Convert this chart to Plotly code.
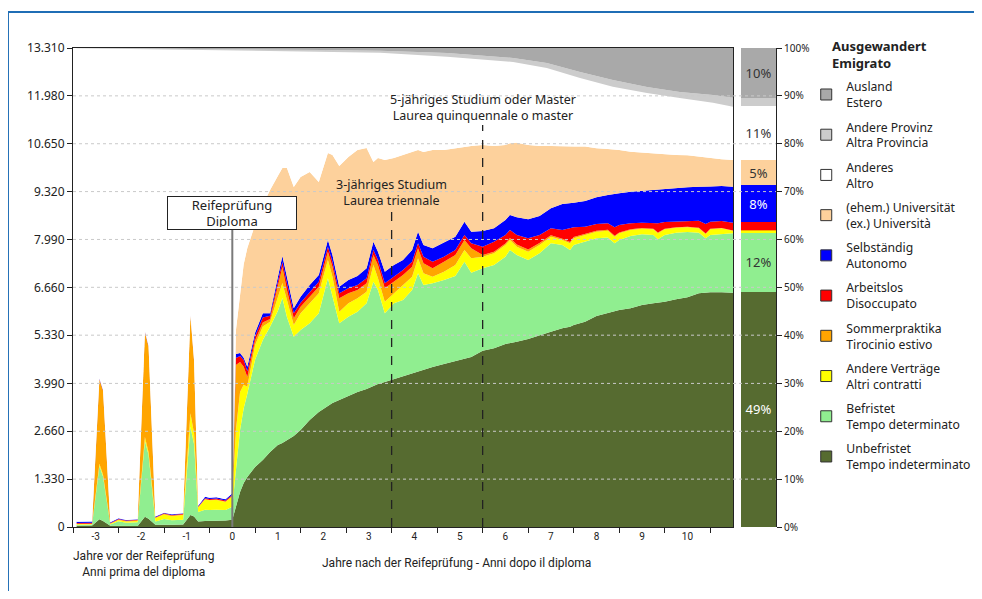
import plotly.graph_objects as go

# ---------------- data ----------------
# time in years relative to the Reifeprüfung (diploma)
years = [-3.42, -3.08, -2.92, -2.84, -2.68, -2.5, -2.33, -2.08, -1.92, -1.84, -1.69, -1.5, -1.33, -1.08,
         -0.92, -0.84, -0.75, -0.6, -0.5, -0.35, -0.15, 0.0,
         0.08, 0.17, 0.25, 0.33, 0.5, 0.67, 0.83, 1.0, 1.1, 1.2, 1.35, 1.5, 1.7, 1.9, 2.1, 2.2, 2.35, 2.55,
         2.75, 2.95, 3.1, 3.2, 3.35, 3.55, 3.75, 3.95, 4.08, 4.2, 4.4, 4.65, 4.9, 5.1, 5.25, 5.5, 5.75, 6.0,
         6.1, 6.25, 6.5, 6.75, 7.0, 7.25, 7.42, 7.5, 7.75, 8.0, 8.25, 8.4, 8.5, 8.75, 9.0, 9.25, 9.35, 9.5,
         9.75, 10.0, 10.25, 10.4, 10.5, 10.75, 11.0]
n_before = 22  # points up to and including the diploma

# cumulative upper boundary of each stacked status (persons)
unbefristet_top = [36, 40, 214, 170, 35, 30, 30, 30, 286, 230, 60, 70, 60, 70, 333, 290, 150, 170, 170, 175, 180, 200,
                   600, 973, 1220, 1390, 1670, 1862, 2084, 2279, 2334, 2418, 2529, 2696, 2974, 3196, 3363, 3446, 3529,
                   3640, 3752, 3835, 3918, 3974, 4030, 4113, 4196, 4280, 4335, 4363, 4446, 4530, 4613, 4669, 4724,
                   4900, 4966, 5086, 5105, 5150, 5225, 5336, 5428, 5522, 5567, 5614, 5706, 5864, 5955, 6011, 6030,
                   6077, 6169, 6216, 6234, 6261, 6328, 6383, 6494, 6511, 6521, 6521, 6510]
befristet_top = [64, 70, 1695, 1400, 70, 160, 120, 130, 2400, 2000, 150, 220, 190, 200, 2787, 2300, 420, 480, 470, 480, 470, 560,
                 1584, 2696, 3300, 3700, 4650, 5197, 5566, 6000, 6364, 5836, 5289, 5475, 5661, 5940, 6911, 6400, 5661,
                 5844, 5983, 6216, 6817, 6586, 5939, 6216, 6308, 6586, 7050, 6725, 6772, 6864, 6975, 7373, 7067, 7189,
                 7281, 7512, 7698, 7559, 7420, 7605, 7884, 7837, 7698, 7837, 7929, 8023, 8041, 7884, 7976, 8087, 8134,
                 8115, 7995, 8115, 8179, 8198, 8179, 8023, 8115, 8134, 8160]
andere_vertraege_top = [83, 85, 1760, 1450, 90, 195, 150, 170, 2500, 2080, 250, 345, 300, 330, 3160, 2600, 540, 765, 740, 750, 700, 850,
                        2696, 3752, 3950, 3900, 5050, 5570, 5700, 6350, 6780, 6308, 5614, 5939, 6216, 6494, 7420, 6956,
                        5983, 6216, 6355, 6540, 7281, 6911, 6261, 6494, 6725, 6956, 7466, 7050, 6956, 7095, 7281, 7698,
                        7466, 7512, 7605, 7837, 7976, 7790, 7651, 7837, 8068, 7976, 7884, 8023, 8115, 8207, 8235, 8068,
                        8161, 8254, 8290, 8272, 8161, 8273, 8318, 8328, 8300, 8142, 8273, 8300, 8235]
sommerpraktika_top = [88, 90, 4100, 3780, 95, 205, 165, 185, 5400, 5000, 260, 365, 320, 350, 5870, 4600, 555, 775, 750, 765, 710, 870,
                      4502, 4585, 4450, 4170, 5180, 5680, 5780, 6650, 7225, 6586, 5800, 6122, 6400, 6678, 7651, 7234,
                      6355, 6494, 6586, 6772, 7559, 7281, 6633, 6817, 7003, 7234, 7745, 7327, 7189, 7373, 7559, 7976,
                      7745, 7559, 7651, 7880, 8030, 7850, 7710, 7890, 8110, 8010, 7920, 8055, 8145, 8235, 8260, 8095,
                      8185, 8275, 8310, 8290, 8180, 8290, 8330, 8340, 8315, 8155, 8285, 8310, 8240]
arbeitslos_top = [111, 115, 4115, 3795, 110, 225, 180, 200, 5420, 5015, 270, 380, 335, 365, 5885, 4615, 570, 800, 775, 790, 735, 895,
                  4697, 4752, 4640, 4330, 5290, 5820, 5870, 6800, 7364, 6780, 5939, 6234, 6540, 6817, 7790, 7373, 6494,
                  6633, 6725, 6911, 7698, 7420, 6772, 6956, 7142, 7373, 7884, 7512, 7373, 7512, 7698, 8115, 7884, 7790,
                  7929, 8115, 8254, 8115, 8023, 8115, 8300, 8254, 8300, 8328, 8346, 8420, 8439, 8328, 8393, 8439, 8457,
                  8457, 8439, 8476, 8495, 8503, 8513, 8420, 8485, 8503, 8457]
selbstaendig_top = [147, 150, 4132, 3810, 130, 241, 195, 214, 5440, 5030, 290, 398, 352, 380, 5900, 4630, 590, 840, 810, 825, 770, 936,
                    4808, 4836, 4700, 4450, 5400, 5939, 5940, 6920, 7531, 6956, 6078, 6400, 6725, 7003, 7976, 7559, 6678,
                    6864, 6975, 7189, 7929, 7651, 7095, 7281, 7420, 7698, 8207, 7837, 7745, 7902, 8068, 8485, 8207, 8226,
                    8300, 8532, 8670, 8606, 8551, 8643, 8856, 8976, 8995, 9012, 9059, 9161, 9226, 9245, 9273, 9318, 9346,
                    9365, 9370, 9384, 9412, 9440, 9457, 9450, 9460, 9476, 9457]
# (ex-)university: none before the diploma
universitaet_top_after = [5475, 6531, 7300, 7750, 8400, 8948, 9365, 9750, 9977, 9977, 9450, 9727, 9866, 9588, 10394, 10338,
                          10032, 10282, 10477, 10532, 10143, 10254, 10199, 10254, 10338, 10421, 10477, 10421, 10477, 10477,
                          10532, 10560, 10588, 10616, 10588, 10616, 10662, 10679, 10616, 10588, 10588, 10570, 10570, 10570,
                          10570, 10523, 10505, 10490, 10477, 10430, 10403, 10384, 10375, 10366, 10338, 10329, 10290, 10270,
                          10245, 10217, 10200]

# emigration bands at the top (coarser reading)
years_top = [-3.42, -2.0, 0.0, 1.0, 2.0, 3.25, 4.72, 6.17, 6.91, 7.64, 8.36, 9.11, 9.83, 10.56, 11.0]
anderes_top = [13305, 13280, 13250, 13230, 13205, 13181, 13070, 12922, 12756, 12478, 12236, 12061, 11922, 11791, 11680]
andere_provinz_top = [13310, 13300, 13285, 13270, 13255, 13236, 13172, 13033, 12894, 12644, 12422, 12228, 12089, 12005, 11930]
cohort_total = 13310

# final composition (right bar, %), bottom -> top
bar_status = ["Unbefristet", "Befristet", "Andere Verträge", "Sommerpraktika", "Arbeitslos",
              "Selbständig", "Universität", "Anderes", "Andere Provinz", "Ausland"]
bar_pct = [49.1, 12.3, 0.6, 0.1, 1.6, 7.6, 5.4, 11.1, 1.8, 10.4]

y_ticks = [0, 1330, 2660, 3990, 5330, 6660, 7990, 9320, 10650, 11980, 13310]
y_tick_text = ["0", "1.330", "2.660", "3.990", "5.330", "6.660", "7.990", "9.320", "10.650", "11.980", "13.310"]
x_ticks = list(range(-3, 11))
pct_ticks = list(range(0, 101, 10))

legend_names = {
    "Ausland": "Ausland<br>Estero",
    "Andere Provinz": "Andere Provinz<br>Altra Provincia",
    "Anderes": "Anderes<br>Altro",
    "Universität": "(ehem.) Universität<br>(ex.) Università",
    "Selbständig": "Selbständig<br>Autonomo",
    "Arbeitslos": "Arbeitslos<br>Disoccupato",
    "Sommerpraktika": "Sommerpraktika<br>Tirocinio estivo",
    "Andere Verträge": "Andere Verträge<br>Altri contratti",
    "Befristet": "Befristet<br>Tempo determinato",
    "Unbefristet": "Unbefristet<br>Tempo indeterminato",
}
colors = {
    "Unbefristet": "#566b30", "Befristet": "#90ee90", "Andere Verträge": "#ffff00",
    "Sommerpraktika": "#ffa500", "Arbeitslos": "#ff0000", "Selbständig": "#0000ff",
    "Universität": "#fdd19c", "Anderes": "#ffffff", "Andere Provinz": "#cccccc", "Ausland": "#a9a9a9",
}

# ---------------- figure ----------------
universitaet_top = selbstaendig_top[:n_before] + universitaet_top_after
main_layers = [("Unbefristet", unbefristet_top), ("Befristet", befristet_top),
               ("Andere Verträge", andere_vertraege_top), ("Sommerpraktika", sommerpraktika_top),
               ("Arbeitslos", arbeitslos_top), ("Selbständig", selbstaendig_top),
               ("Universität", universitaet_top)]

fig = go.Figure()
for i, (key, top) in enumerate(main_layers):
    fig.add_trace(go.Scatter(x=years, y=top, mode="lines", line=dict(width=0, color=colors[key]),
                             fill="tozeroy" if i == 0 else "tonexty", fillcolor=colors[key],
                             showlegend=False, hoverinfo="skip"))
for key, top in [("Anderes", anderes_top), ("Andere Provinz", andere_provinz_top),
                 ("Ausland", [cohort_total] * len(years_top))]:
    fig.add_trace(go.Scatter(x=years_top, y=top, mode="lines", line=dict(width=0, color=colors[key]),
                             fill="tonexty", fillcolor=colors[key], showlegend=False, hoverinfo="skip"))

# legend entries
for i, key in enumerate(["Ausland", "Andere Provinz", "Anderes", "Universität", "Selbständig", "Arbeitslos",
                         "Sommerpraktika", "Andere Verträge", "Befristet", "Unbefristet"]):
    fig.add_trace(go.Scatter(x=[None], y=[None], mode="markers", name=legend_names[key], legendgroup=f"g{i}",
                             marker=dict(symbol="square", size=11, color=colors[key],
                                         line=dict(color="#333333", width=1))))

# right bar: final composition
for key, v in zip(bar_status, bar_pct):
    label = f"{round(v)}%" if v >= 4 else ""
    tc = "white" if key in ("Unbefristet", "Selbständig") else "#333333"
    fig.add_trace(go.Bar(x=[0], y=[v], xaxis="x2", yaxis="y2", width=1, marker=dict(color=colors[key], line=dict(width=0)),
                         text=[label], textposition="inside", insidetextanchor="middle", textangle=0,
                         textfont=dict(color=tc, size=13), showlegend=False, hoverinfo="skip"))

# dotted gridlines above the areas
for v in y_ticks[1:-1]:
    fig.add_shape(type="line", xref="paper", x0=0, x1=1, yref="y", y0=v, y1=v, layer="above",
                  line=dict(color="#c9c9c9", width=1, dash="dot"))

# diploma marker line and study period lines
fig.add_shape(type="line", xref="x", yref="y", x0=0, x1=0, y0=0, y1=8254, line=dict(color="#7a7a7a", width=2))
fig.add_shape(type="line", xref="x", yref="y", x0=3.5, x1=3.5, y0=0, y1=8800,
              line=dict(color="#222222", width=1.3, dash="dash"))
fig.add_shape(type="line", xref="x", yref="y", x0=5.5, x1=5.5, y0=0, y1=11170,
              line=dict(color="#222222", width=1.3, dash="dash"))

# outer blue frame
fig.add_shape(type="rect", xref="paper", yref="paper", x0=-0.0925, x1=1.4, y0=-0.4, y1=1.0752,
              line=dict(color="#1f6db5", width=2), fillcolor="rgba(0,0,0,0)", layer="above")

fig.add_annotation(x=0, y=8726, xref="x", yref="y", text="Reifeprüfung<br>Diploma", showarrow=False,
                   bordercolor="#222222", borderwidth=1, bgcolor="white", borderpad=2, width=124, height=28,
                   font=dict(size=13, color="#222222"))
fig.add_annotation(x=3.5, y=9290, xref="x", yref="y", text="3-jähriges Studium<br>Laurea triennale",
                   showarrow=False, font=dict(size=12.5, color="#222222"))
fig.add_annotation(x=5.5, y=11660, xref="x", yref="y", text="5-jähriges Studium oder Master<br>Laurea quinquennale o master",
                   showarrow=False, font=dict(size=12.5, color="#222222"))
fig.add_annotation(x=-1.96, y=-0.078, xref="x", yref="paper", yanchor="middle", xanchor="center",
                   text="Jahre vor der Reifeprüfung<br>Anni prima del diploma",
                   showarrow=False, font=dict(size=12, color="#222222", family="Roboto"))
fig.add_annotation(x=4.92, y=-0.075, xref="x", yref="paper", yanchor="middle", xanchor="center",
                   text="Jahre nach der Reifeprüfung - Anni dopo il diploma",
                   showarrow=False, font=dict(size=12, color="#222222", family="Roboto"))
# legend heading
fig.add_annotation(x=1.0768, y=0.9854, xref="paper", yref="paper", xanchor="left", yanchor="middle", align="left",
                   text="<b>Ausgewandert<br>Emigrato</b>", showarrow=False, font=dict(size=13, color="#222222"))

fig.update_layout(
    width=974, height=583,
    margin=dict(l=65, r=206, t=40, b=64, autoexpand=False),
    paper_bgcolor="white", plot_bgcolor="white",
    font=dict(family="Noto Sans", size=13, color="#222222"),
    barmode="stack",
    showlegend=True,
    legend=dict(x=1.043, xref="paper", y=0.890, yref="container", xanchor="left", yanchor="top",
                tracegroupgap=5.5, maxheight=560,
                font=dict(size=12.2), bgcolor="rgba(0,0,0,0)"),
    xaxis=dict(domain=[0, 0.93883], range=[-3.5, 11], tickvals=x_ticks, ticktext=[str(t) for t in x_ticks],
               ticks="", showline=True, mirror=True, linecolor="#222222", linewidth=1, showgrid=False,
               zeroline=False, tickfont=dict(size=10, family="Roboto"),
               minor=dict(tickmode="linear", tick0=-3.5, dtick=1, ticks="outside", ticklen=5,
                          tickcolor="#222222", showgrid=False)),
    yaxis=dict(range=[0, cohort_total], tickvals=y_ticks, ticktext=y_tick_text, ticks="outside", ticklen=5,
               tickcolor="#222222", showline=True, mirror=True, linecolor="#222222", linewidth=1,
               showgrid=False, zeroline=False, tickfont=dict(size=12)),
    xaxis2=dict(domain=[0.95021, 1.0], range=[-0.5, 0.5], visible=False, anchor="y2"),
    yaxis2=dict(domain=[0, 1], anchor="x2", side="right", range=[0, 100], tickvals=pct_ticks,
                ticktext=[f"{t}%" for t in pct_ticks], ticks="outside", ticklen=5, tickcolor="#222222",
                showline=True, linecolor="#222222", showgrid=False, zeroline=False, tickfont=dict(size=10)),
)

fig.write_html("out.html")
